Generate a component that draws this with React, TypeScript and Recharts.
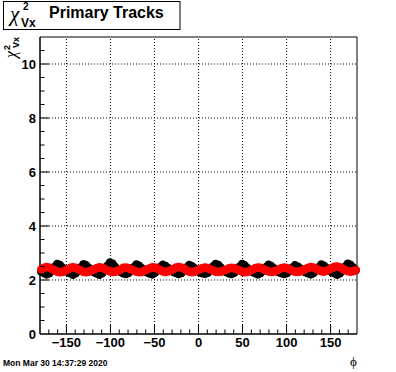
import { ScatterChart, Scatter, XAxis, YAxis, ReferenceLine, ReferenceArea } from 'recharts'

// bin centres in phi (3 degree bins)
const PHI = [
  -178.5, -175.5, -172.5, -169.5, -166.5, -163.5, -160.5, -157.5, -154.5, -151.5,
  -148.5, -145.5, -142.5, -139.5, -136.5, -133.5, -130.5, -127.5, -124.5, -121.5,
  -118.5, -115.5, -112.5, -109.5, -106.5, -103.5, -100.5, -97.5, -94.5, -91.5,
  -88.5, -85.5, -82.5, -79.5, -76.5, -73.5, -70.5, -67.5, -64.5, -61.5,
  -58.5, -55.5, -52.5, -49.5, -46.5, -43.5, -40.5, -37.5, -34.5, -31.5,
  -28.5, -25.5, -22.5, -19.5, -16.5, -13.5, -10.5, -7.5, -4.5, -1.5,
  1.5, 4.5, 7.5, 10.5, 13.5, 16.5, 19.5, 22.5, 25.5, 28.5,
  31.5, 34.5, 37.5, 40.5, 43.5, 46.5, 49.5, 52.5, 55.5, 58.5,
  61.5, 64.5, 67.5, 70.5, 73.5, 76.5, 79.5, 82.5, 85.5, 88.5,
  91.5, 94.5, 97.5, 100.5, 103.5, 106.5, 109.5, 112.5, 115.5, 118.5,
  121.5, 124.5, 127.5, 130.5, 133.5, 136.5, 139.5, 142.5, 145.5, 148.5,
  151.5, 154.5, 157.5, 160.5, 163.5, 166.5, 169.5, 172.5, 175.5, 178.5,
]

const BLACK = [
  2.31, 2.26, 2.21, 2.25, 2.35, 2.48, 2.59, 2.55, 2.45, 2.36,
  2.30, 2.25, 2.20, 2.25, 2.34, 2.47, 2.58, 2.54, 2.44, 2.35,
  2.29, 2.24, 2.20, 2.25, 2.37, 2.53, 2.65, 2.60, 2.48, 2.37,
  2.30, 2.25, 2.22, 2.26, 2.35, 2.47, 2.57, 2.53, 2.43, 2.35,
  2.29, 2.24, 2.21, 2.27, 2.36, 2.48, 2.56, 2.52, 2.44, 2.36,
  2.30, 2.26, 2.22, 2.26, 2.35, 2.46, 2.55, 2.51, 2.43, 2.35,
  2.29, 2.25, 2.23, 2.27, 2.37, 2.50, 2.59, 2.55, 2.45, 2.36,
  2.30, 2.25, 2.22, 2.27, 2.36, 2.49, 2.59, 2.54, 2.44, 2.36,
  2.30, 2.25, 2.21, 2.26, 2.35, 2.47, 2.56, 2.52, 2.43, 2.35,
  2.29, 2.25, 2.22, 2.26, 2.34, 2.45, 2.54, 2.50, 2.42, 2.34,
  2.29, 2.25, 2.21, 2.26, 2.35, 2.47, 2.57, 2.53, 2.44, 2.35,
  2.29, 2.25, 2.20, 2.25, 2.35, 2.49, 2.60, 2.56, 2.46, 2.37,
]

const RED = [
  2.40, 2.45, 2.48, 2.46, 2.41, 2.36, 2.31, 2.29, 2.30, 2.34,
  2.39, 2.45, 2.47, 2.45, 2.40, 2.35, 2.30, 2.29, 2.31, 2.35,
  2.40, 2.44, 2.47, 2.45, 2.41, 2.36, 2.32, 2.30, 2.31, 2.34,
  2.39, 2.45, 2.46, 2.44, 2.40, 2.35, 2.31, 2.29, 2.30, 2.34,
  2.39, 2.43, 2.47, 2.46, 2.42, 2.37, 2.32, 2.30, 2.32, 2.36,
  2.41, 2.46, 2.48, 2.46, 2.42, 2.36, 2.31, 2.29, 2.31, 2.35,
  2.40, 2.44, 2.46, 2.44, 2.40, 2.35, 2.31, 2.30, 2.31, 2.35,
  2.38, 2.43, 2.45, 2.44, 2.40, 2.35, 2.31, 2.29, 2.30, 2.34,
  2.39, 2.44, 2.46, 2.45, 2.41, 2.36, 2.32, 2.30, 2.31, 2.35,
  2.40, 2.44, 2.46, 2.44, 2.40, 2.35, 2.31, 2.30, 2.32, 2.36,
  2.41, 2.45, 2.48, 2.46, 2.42, 2.37, 2.33, 2.31, 2.34, 2.39,
  2.44, 2.49, 2.50, 2.47, 2.42, 2.37, 2.33, 2.31, 2.33, 2.36,
]

const X_TICKS = [
  -170, -160, -150, -140, -130, -120, -110, -100, -90, -80, -70, -60, -50, -40, -30, -20, -10,
  0, 10, 20, 30, 40, 50, 60, 70, 80, 90, 100, 110, 120, 130, 140, 150, 160, 170,
]
const X_LABELS = [-150, -100, -50, 0, 50, 100, 150]
const Y_TICKS = [0, 0.5, 1, 1.5, 2, 2.5, 3, 3.5, 4, 4.5, 5, 5.5, 6, 6.5, 7, 7.5, 8, 8.5, 9, 9.5, 10, 10.5]
const Y_LABELS = [0, 2, 4, 6, 8, 10]
const X_GRID = [-150, -100, -50, 0, 50, 100, 150]
const Y_GRID = [2, 4, 6, 8, 10]

const blackData = PHI.map((phi, i) => ({ phi, chi2: BLACK[i] }))
const redData = PHI.map((phi, i) => ({ phi, chi2: RED[i] }))

const SANS = '"Liberation Sans", Arial, Helvetica, sans-serif'
const SERIF = '"Liberation Serif", "Times New Roman", serif'

const fmt = (v: number) => (v < 0 ? '\u2212' + Math.abs(v) : String(v))

function XTick({ x, y, payload }: any) {
  const v = payload.value
  const major = X_LABELS.includes(v)
  return (
    <g>
      <line x1={x} x2={x} y1={y} y2={y - (major ? 9 : 4.5)} stroke="#000" />
      {major && (
        <text x={x} y={y + 13} textAnchor="middle" fontFamily={SANS} fontWeight="bold" fontSize={13} fill="#000">
          {fmt(v)}
        </text>
      )}
    </g>
  )
}

function YTick({ x, y, payload }: any) {
  const v = payload.value
  const major = Y_LABELS.includes(v)
  return (
    <g>
      {v > 0 && <line x1={x} x2={x + (major ? 9 : 4.5)} y1={y} y2={y} stroke="#000" />}
      {major && (
        <text x={x - 4} y={y + 4.5} textAnchor="end" fontFamily={SANS} fontWeight="bold" fontSize={13} fill="#000">
          {v}
        </text>
      )}
    </g>
  )
}

const dot = (color: string) => (p: any) => <circle cx={p.cx} cy={p.cy} r={4.3} fill={color} />

export default function App() {
  return (
    <div style={{ position: 'absolute', left: 0, top: 0, width: 396, height: 372, background: '#fff' }}>
      <ScatterChart width={396} height={372} margin={{ top: 37, right: 39, bottom: 0, left: 0 }}>
        <XAxis
          type="number"
          dataKey="phi"
          domain={[-180, 180]}
          ticks={X_TICKS}
          interval={0}
          height={38}
          tickSize={0}
          tickMargin={0}
          tickLine={false}
          axisLine={{ stroke: '#000' }}
          tick={XTick}
        />
        <YAxis
          type="number"
          dataKey="chi2"
          domain={[0, 11]}
          ticks={Y_TICKS}
          interval={0}
          width={40}
          tickSize={0}
          tickMargin={0}
          tickLine={false}
          axisLine={{ stroke: '#000' }}
          tick={YTick}
        />
        {X_GRID.map((v) => (
          <ReferenceLine key={'gx' + v} x={v} stroke="#000" strokeDasharray="1 2" />
        ))}
        {Y_GRID.map((v) => (
          <ReferenceLine key={'gy' + v} y={v} stroke="#000" strokeDasharray="1 2" />
        ))}
        <ReferenceArea x1={-180} x2={180} y1={0} y2={11} stroke="#000" fill="none" fillOpacity={0} />
        <Scatter data={blackData} shape={dot('#000')} isAnimationActive={false} />
        <Scatter data={redData} shape={dot('#ff0000')} isAnimationActive={false} />
      </ScatterChart>
      <svg width={396} height={372} style={{ position: 'absolute', left: 0, top: 0, pointerEvents: 'none' }}>
        <rect x={3.5} y={1.5} width={176.5} height={28} fill="#fff" stroke="#000" />
        <text x={10} y={21} fontFamily={SERIF} fontStyle="italic" fontSize={21} fill="#000">χ</text>
        <text x={23} y={10} fontFamily={SANS} fontWeight="bold" fontSize={10} fill="#000">2</text>
        <text x={21} y={27} fontFamily={SANS} fontWeight="bold" fontSize={12} fill="#000">Vx</text>
        <text x={49} y={18} fontFamily={SANS} fontWeight="bold" fontSize={16} fill="#000">Primary Tracks</text>
        <g transform="translate(16, 58) rotate(-90)">
          <text x={0} y={0} fontFamily={SERIF} fontStyle="italic" fontSize={16} fill="#000">χ</text>
          <text x={8} y={-6} fontFamily={SANS} fontWeight="bold" fontSize={9} fill="#000">2</text>
          <text x={10} y={3} fontFamily={SANS} fontWeight="bold" fontSize={9} fill="#000">Vx</text>
        </g>
        <text x={350} y={366} fontFamily={SERIF} fontSize={13} fill="#000">ϕ</text>
        <text x={3} y={366} fontFamily={SANS} fontWeight="bold" fontSize={8.5} fill="#000">Mon Mar 30 14:37:29 2020</text>
      </svg>
    </div>
  )
}
